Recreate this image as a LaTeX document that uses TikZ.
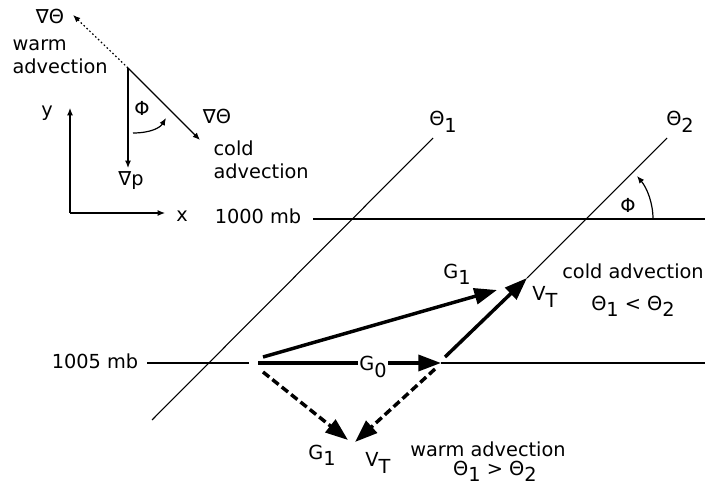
\documentclass[tikz,border=0pt]{standalone}
\usepackage{fontspec}
\setmainfont{DejaVu Sans}
\usepackage{tikz}
\usetikzlibrary{arrows.meta}
\newcommand\sbs[1]{\raisebox{-0.6ex}{#1}}

\begin{document}
\begin{tikzpicture}[x=0.75pt,y=-0.75pt,
  every node/.style={font=\fontsize{14.5}{17}\selectfont,inner sep=1pt},
  isoline/.style={line width=0.8pt},
  smallarrow/.style={line width=0.9pt,-{Latex[length=5.5pt,width=4.5pt]}},
  bigarrow/.style={line width=2.6pt,-{Triangle[length=17pt,width=12pt]}},
  brokenarrow/.style={bigarrow,dash pattern=on 6pt off 3pt}]
  \useasboundingbox (0,0) rectangle (705,491);
  % small sketch of the gradients, top left
  \coordinate (o) at (128,68);
  \coordinate (wt) at (73,15);
  \coordinate (ct) at (200,140);
  \coordinate (gt) at (128,168);
  \draw[smallarrow,dash pattern=on 1.2pt off 1.8pt] (o) -- (wt);
  \draw[smallarrow] (o) -- (ct);
  \draw[smallarrow] (o) -- (gt);
  \node (gradw) at (50,16) {∇Θ};
  \node[align=left,anchor=west] (warmlab) at (11,57) {warm\\advection};
  \node (gradc) at (217,116) {∇Θ};
  \node[align=left,anchor=west] (coldlab) at (212,160) {cold\\advection};
  \node (gradp) at (131,181) {∇p};
  \node (phismall) at (142,108) {Φ};
  \coordinate (a1) at (133,133);
  \coordinate (a2) at (166,118);
  \draw[smallarrow] (a1) .. controls (150,133) and (160,128) .. (a2);
  % axes
  \coordinate (ax) at (70,213);
  \coordinate (ay) at (70,108);
  \coordinate (axx) at (165,213);
  \draw[smallarrow] (ax) -- (ay);
  \draw[smallarrow] (ax) -- (axx);
  \node (ylab) at (47,113) {y};
  \node (xlab) at (182,216) {x};
  % isobars and isotherms
  \node (mb1000) at (258,216) {1000 mb};
  \node (mb1005) at (95,361) {1005 mb};
  \coordinate (p1a) at (313,219);
  \coordinate (p1b) at (705,219);
  \coordinate (p2a) at (147,363);
  \coordinate (p2b) at (249,363);
  \coordinate (p2c) at (441,363);
  \coordinate (p2d) at (705,363);
  \draw[isoline] (p1a) -- (p1b);
  \draw[isoline] (p2a) -- (p2b);
  \draw[isoline] (p2c) -- (p2d);
  \coordinate (t1a) at (152,420);
  \coordinate (t1b) at (433,138);
  \coordinate (t2a) at (527,278);
  \coordinate (t2b) at (667,138);
  \draw[isoline] (t1a) -- (t1b);
  \draw[isoline] (t2a) -- (t2b);
  \node (th1) at (443,122) {Θ\sbs{1}};
  \node (th2) at (680,122) {Θ\sbs{2}};
  % angle between isobar and isotherm
  \coordinate (f1) at (653,219);
  \coordinate (f2) at (637,176);
  \draw[smallarrow] (f1) .. controls (653,203) and (647,188) .. (f2);
  \node (philarge) at (628,205) {Φ};
  % geostrophic winds and thermal wind
  \coordinate (s0) at (258,363);
  \coordinate (s1) at (263,357);
  \coordinate (s2) at (263,372);
  \coordinate (g1up) at (497,290);
  \coordinate (g1dn) at (348,440);
  \coordinate (vtb) at (445,357);
  \coordinate (vtc) at (435,369);
  \coordinate (vtdn) at (355,442);
  \draw[bigarrow] (s0) -- (p2c);
  \draw[bigarrow] (s1) -- (g1up);
  \draw[bigarrow] (vtb) -- (t2a);
  \draw[brokenarrow] (s2) -- (g1dn);
  \draw[brokenarrow] (vtc) -- (vtdn);
  \node[fill=white] (g0lab) at (373,367) {G\sbs{0}};
  \node (g1uplab) at (457,274) {G\sbs{1}};
  \node (g1dnlab) at (322,455) {G\sbs{1}};
  \node (vtuplab) at (545,297) {V\sbs{T}};
  \node (vtdnlab) at (378,463) {V\sbs{T}};
  \node (coldtxt) at (633,271) {cold advection};
  \node (coldrel) at (633,306) {Θ\sbs{1} < Θ\sbs{2}};
  \node (warmtxt) at (488,449) {warm advection};
  \node (warmrel) at (495,471) {Θ\sbs{1} > Θ\sbs{2}};
\end{tikzpicture}
\end{document}
